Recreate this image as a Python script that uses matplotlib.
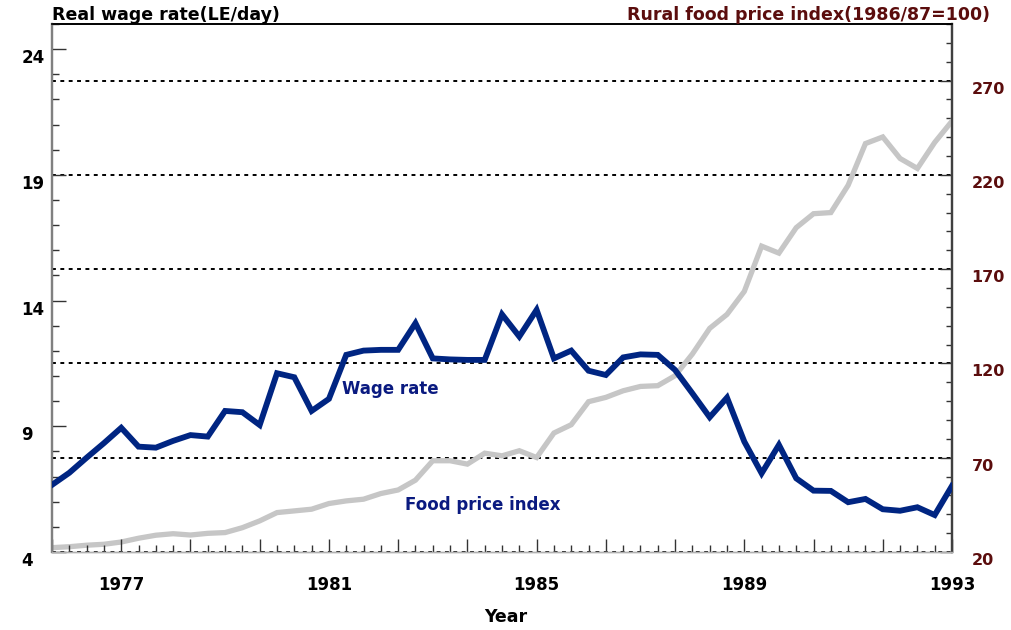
import numpy as np
import matplotlib
matplotlib.use("Agg")
import matplotlib.pyplot as plt
from matplotlib.ticker import FixedLocator, MultipleLocator
from matplotlib.transforms import ScaledTranslation

plt.rcParams['font.family'] = ['DejaVu Sans']

# -----------------------------
# Data (one value every 4 months)
# -----------------------------
wage = [6.67, 7.15, 7.75, 8.33, 8.94, 8.19, 8.15, 8.42, 8.65, 8.59,
        9.61, 9.56, 9.05, 11.11, 10.95, 9.61, 10.09, 11.84, 12.01, 12.04,
        12.04, 13.10, 11.70, 11.66, 11.64, 11.64, 13.45, 12.57, 13.63, 11.70,
        12.01, 11.21, 11.04, 11.74, 11.86, 11.84, 11.24, 10.31, 9.36, 10.14,
        8.39, 7.13, 8.26, 6.93, 6.44, 6.43, 5.98, 6.11, 5.70, 5.64,
        5.78, 5.47, 6.63]

food = [22.3, 22.8, 23.6, 24.1, 25.3, 27.3, 28.9, 29.7, 29.0, 29.9,
        30.3, 32.9, 36.5, 40.9, 41.8, 42.7, 45.7, 47.1, 48.0, 51.0,
        52.9, 58.1, 68.4, 68.4, 66.6, 72.4, 71.0, 73.7, 70.1, 83.1,
        87.5, 99.7, 102.0, 105.5, 107.8, 108.2, 113.5, 125.0, 138.6, 146.0,
        158.2, 182.2, 178.5, 192.0, 199.4, 200.0, 214.5, 236.6, 240.1, 228.7,
        223.4, 237.2, 248.5]

year_labels = ["1977", "1981", "1985", "1989", "1993"]
year_pos = [4, 16, 28, 40, 52]

left_ticks = [4, 9, 14, 19, 24]
right_ticks = [20, 70, 120, 170, 220, 270]

NAVY = '#002582'
GREY = '#c6c6c6'
MAROON = '#5b0d0d'
LABEL_BLUE = '#0a1a80'

x = np.arange(len(wage))

fig = plt.figure(figsize=(10.11, 6.30), dpi=100)
ax = fig.add_axes([52 / 1011, 78 / 630, 900 / 1011, 528 / 630])
ax2 = ax.twinx()

# food price index on the right axis, wage drawn on top
ax2.plot(x, food, color=GREY, lw=3.8, solid_joinstyle='miter', zorder=3)
ax.plot(x, wage, color=NAVY, lw=4.2, solid_joinstyle='miter', zorder=3)
ax.set_zorder(ax2.get_zorder() + 1)
ax.patch.set_visible(False)

for v in right_ticks:
    ax2.axhline(v, color='black', lw=1.4, ls=(0, (2.0, 2.3)), zorder=1)

ax.set_xlim(0, len(wage) - 1)
ax.set_ylim(4, 25)
ax2.set_ylim(20, 300)

# x ticks: major every 4 periods, labels on every third major
major_x = list(range(0, len(wage), 4))
ax.xaxis.set_major_locator(FixedLocator(major_x))
ax.xaxis.set_minor_locator(MultipleLocator(1))
ax.set_xticklabels([year_labels[year_pos.index(p)] if p in year_pos else ""
                    for p in major_x])
ax.tick_params(axis='x', which='major', direction='in', length=9.5, width=1,
               pad=17, labelsize=12, colors='#333333', labelcolor='black')
ax.tick_params(axis='x', which='minor', direction='in', length=5, width=1,
               colors='#333333')
for lab in ax.get_xticklabels():
    lab.set_fontweight('bold')

# left y ticks
ax.yaxis.set_major_locator(FixedLocator(left_ticks))
ax.yaxis.set_minor_locator(MultipleLocator(1))
ax.set_yticklabels([str(v) for v in left_ticks])
ax.tick_params(axis='y', which='major', direction='in', length=10, width=1,
               pad=22, labelsize=12, colors='#333333', labelcolor='black')
ax.tick_params(axis='y', which='minor', direction='in', length=5, width=1,
               colors='#333333')
off = ScaledTranslation(0, -7 / 100, fig.dpi_scale_trans)
for lab in ax.get_yticklabels():
    lab.set_fontweight('bold')
    lab.set_horizontalalignment('left')
    lab.set_transform(lab.get_transform() + off)

# right y ticks
ax2.yaxis.set_major_locator(FixedLocator(right_ticks))
ax2.yaxis.set_minor_locator(MultipleLocator(10))
ax2.set_yticklabels([str(v) for v in right_ticks])
ax2.tick_params(axis='y', which='major', direction='in', length=9, width=1,
                pad=14, labelsize=11.5, colors='#333333', labelcolor=MAROON)
ax2.tick_params(axis='y', which='minor', direction='in', length=4.5, width=1,
                colors='#333333')
for lab in ax2.get_yticklabels():
    lab.set_fontweight('bold')
    lab.set_transform(lab.get_transform() + off)

# spines
for a in (ax, ax2):
    a.spines['left'].set_color('#808080')
    a.spines['left'].set_linewidth(1.6)
    a.spines['right'].set_color('#404040')
    a.spines['right'].set_linewidth(1.6)
    a.spines['top'].set_color('black')
    a.spines['top'].set_linewidth(1.2)
    a.spines['bottom'].set_color('#b0b0b0')
    a.spines['bottom'].set_linewidth(1.0)

# texts
fig.text(52 / 1011, 1 - 15 / 630, "Real wage rate(LE/day)", fontsize=12.5,
         fontweight='bold', color='black', ha='left', va='center')
fig.text(990 / 1011, 1 - 15 / 630, "Rural food price index(1986/87=100)",
         fontsize=12.5, fontweight='bold', color=MAROON, ha='right', va='center')
fig.text(506 / 1011, 1 - 617 / 630, "Year", fontsize=12.5, fontweight='bold',
         ha='center', va='center')
fig.text(342 / 1011, 1 - 389 / 630, "Wage rate", fontsize=12,
         fontweight='bold', color=LABEL_BLUE, ha='left', va='center')
fig.text(405 / 1011, 1 - 505 / 630, "Food price index", fontsize=12,
         fontweight='bold', color=LABEL_BLUE, ha='left', va='center')

fig.savefig("out.png", dpi=100)
